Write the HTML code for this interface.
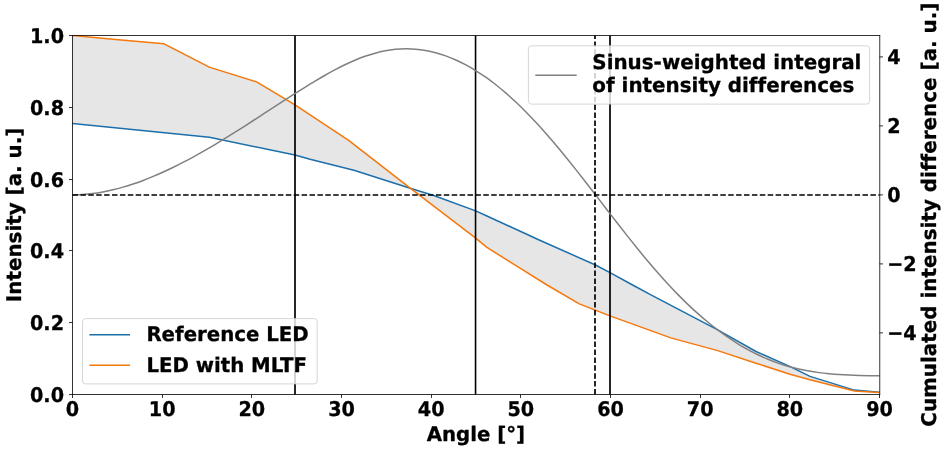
<!DOCTYPE html>
<html lang="en"><head><meta charset="utf-8"><title>Intensity vs angle</title>
<style>html,body{margin:0;padding:0;background:#fff}svg{display:block}text{text-rendering:geometricPrecision;stroke:#000;stroke-width:.3px;stroke-linejoin:round;font-variant-ligatures:none;font-feature-settings:"liga" 0,"clig" 0}</style></head>
<body>
<svg width="944" height="450" viewBox="0 0 944 450" font-family="'DejaVu Sans', 'Liberation Sans', sans-serif" font-weight="bold" font-size="20" fill="#000">
<rect width="944" height="450" fill="#fff"/>
<path d="M72.50 35.50 L118.40 39.70 L164.10 43.80 L209.30 67.10 L256.60 81.90 L295.00 104.90 L348.30 140.10 L410.20 188.20 L475.70 238.20 L486.90 247.40 L520.00 268.10 L547.00 285.00 L579.30 303.90 L610.00 315.90 L670.80 337.90 L717.70 350.60 L756.00 363.20 L790.00 374.20 L810.00 379.80 L854.40 391.00 L879.50 392.60 L879.50 392.30 L854.30 390.10 L810.00 376.40 L790.20 366.60 L756.00 351.50 L717.70 329.80 L650.00 294.30 L632.60 285.00 L610.00 272.70 L595.50 265.00 L539.20 240.00 L486.90 216.00 L475.70 210.90 L433.00 195.20 L410.20 188.20 L353.90 170.30 L310.00 159.30 L295.00 155.00 L209.30 137.30 L72.50 123.60 Z" fill="#808080" fill-opacity="0.2"/>
<g stroke="#000" stroke-width="0.8">
<line x1="72.5" y1="394.5" x2="72.5" y2="398.0"/>
<line x1="162.5" y1="394.5" x2="162.5" y2="398.0"/>
<line x1="251.5" y1="394.5" x2="251.5" y2="398.0"/>
<line x1="341.5" y1="394.5" x2="341.5" y2="398.0"/>
<line x1="431.5" y1="394.5" x2="431.5" y2="398.0"/>
<line x1="520.5" y1="394.5" x2="520.5" y2="398.0"/>
<line x1="610.5" y1="394.5" x2="610.5" y2="398.0"/>
<line x1="700.5" y1="394.5" x2="700.5" y2="398.0"/>
<line x1="789.5" y1="394.5" x2="789.5" y2="398.0"/>
<line x1="879.5" y1="394.5" x2="879.5" y2="398.0"/>
<line x1="69.0" y1="394.5" x2="72.5" y2="394.5"/>
<line x1="69.0" y1="322.5" x2="72.5" y2="322.5"/>
<line x1="69.0" y1="250.5" x2="72.5" y2="250.5"/>
<line x1="69.0" y1="179.5" x2="72.5" y2="179.5"/>
<line x1="69.0" y1="107.5" x2="72.5" y2="107.5"/>
<line x1="69.0" y1="35.5" x2="72.5" y2="35.5"/>
<line x1="879.5" y1="56.900000000000006" x2="883.0" y2="56.900000000000006"/>
<line x1="879.5" y1="125.9" x2="883.0" y2="125.9"/>
<line x1="879.5" y1="194.9" x2="883.0" y2="194.9"/>
<line x1="879.5" y1="263.9" x2="883.0" y2="263.9"/>
<line x1="879.5" y1="332.9" x2="883.0" y2="332.9"/>
</g>
<text transform="translate(72.50 416.00) scale(0.96 1.01)" text-anchor="middle">0</text>
<text transform="translate(162.17 416.00) scale(0.96 1.01)" text-anchor="middle">10</text>
<text transform="translate(251.83 416.00) scale(0.96 1.01)" text-anchor="middle">20</text>
<text transform="translate(341.50 416.00) scale(0.96 1.01)" text-anchor="middle">30</text>
<text transform="translate(431.17 416.00) scale(0.96 1.01)" text-anchor="middle">40</text>
<text transform="translate(520.83 416.00) scale(0.96 1.01)" text-anchor="middle">50</text>
<text transform="translate(610.50 416.00) scale(0.96 1.01)" text-anchor="middle">60</text>
<text transform="translate(700.17 416.00) scale(0.96 1.01)" text-anchor="middle">70</text>
<text transform="translate(789.83 416.00) scale(0.96 1.01)" text-anchor="middle">80</text>
<text transform="translate(879.50 416.00) scale(0.96 1.01)" text-anchor="middle">90</text>
<text transform="translate(64.00 402.00) scale(0.96 1.01)" text-anchor="end">0.0</text>
<text transform="translate(64.00 330.00) scale(0.96 1.01)" text-anchor="end">0.2</text>
<text transform="translate(64.00 258.00) scale(0.96 1.01)" text-anchor="end">0.4</text>
<text transform="translate(64.00 187.00) scale(0.96 1.01)" text-anchor="end">0.6</text>
<text transform="translate(64.00 115.00) scale(0.96 1.01)" text-anchor="end">0.8</text>
<text transform="translate(64.00 43.00) scale(0.96 1.01)" text-anchor="end">1.0</text>
<text transform="translate(887.20 64.00) scale(0.96 1.01)">4</text>
<text transform="translate(887.20 133.00) scale(0.96 1.01)">2</text>
<text transform="translate(887.20 202.00) scale(0.96 1.01)">0</text>
<text transform="translate(887.20 271.00) scale(0.96 1.01)">−2</text>
<text transform="translate(887.20 340.00) scale(0.96 1.01)">−4</text>
<text transform="translate(475.90 441.00) scale(0.988 1.01)" text-anchor="middle">Angle [°]</text>
<text transform="translate(20.70 214.90) rotate(-90) scale(0.994 1.01)" text-anchor="middle">Intensity [a. u.]</text>
<text transform="translate(935.80 214.65) rotate(-90) scale(0.996 1.01)" text-anchor="middle">Cumulated intensity difference [a. u.]</text>
<g fill="none" stroke-width="1.5" stroke-linejoin="round">
<path d="M72.50 123.60 L209.30 137.30 L295.00 155.00 L310.00 159.30 L353.90 170.30 L410.20 188.20 L433.00 195.20 L475.70 210.90 L486.90 216.00 L539.20 240.00 L595.50 265.00 L610.00 272.70 L632.60 285.00 L650.00 294.30 L717.70 329.80 L756.00 351.50 L790.20 366.60 L810.00 376.40 L854.30 390.10 L879.50 392.30" stroke="#1b6fab"/>
<path d="M72.50 35.50 L118.40 39.70 L164.10 43.80 L209.30 67.10 L256.60 81.90 L295.00 104.90 L348.30 140.10 L410.20 188.20 L475.70 238.20 L486.90 247.40 L520.00 268.10 L547.00 285.00 L579.30 303.90 L610.00 315.90 L670.80 337.90 L717.70 350.60 L756.00 363.20 L790.00 374.20 L810.00 379.80 L854.40 391.00 L879.50 392.60" stroke="#f5780c"/>
<line x1="295" y1="394.5" x2="295" y2="35.5" stroke="#000" stroke-width="1.7"/>
<line x1="475.55" y1="394.5" x2="475.55" y2="35.5" stroke="#000" stroke-width="1.6"/>
<line x1="610.0" y1="394.5" x2="610.0" y2="35.5" stroke="#000" stroke-width="1.7"/>
<path d="M72.50 194.90 C74.18 194.84 79.23 194.73 82.59 194.50 C85.95 194.26 89.31 193.92 92.67 193.49 C96.04 193.06 99.40 192.52 102.76 191.91 C106.12 191.29 109.49 190.57 112.85 189.78 C116.21 188.98 119.58 188.09 122.94 187.13 C126.30 186.17 129.66 185.12 133.03 184.01 C136.39 182.89 139.75 181.69 143.11 180.43 C146.48 179.16 149.84 177.82 153.20 176.42 C156.56 175.03 159.93 173.56 163.29 172.03 C166.65 170.51 170.01 168.92 173.38 167.28 C176.74 165.64 180.10 163.94 183.46 162.20 C186.83 160.45 190.19 158.65 193.55 156.82 C196.91 154.98 200.28 153.09 203.64 151.17 C207.00 149.24 210.36 147.28 213.72 145.28 C217.09 143.28 220.45 141.25 223.81 139.19 C227.18 137.13 230.54 135.03 233.90 132.92 C237.26 130.81 240.62 128.66 243.99 126.51 C247.35 124.36 250.71 122.18 254.08 120.00 C257.44 117.83 260.80 115.63 264.16 113.44 C267.53 111.26 270.89 109.06 274.25 106.87 C277.61 104.69 280.97 102.51 284.34 100.34 C287.70 98.18 291.06 96.02 294.43 93.89 C297.79 91.76 301.15 89.65 304.51 87.57 C307.88 85.49 311.24 83.42 314.60 81.41 C317.96 79.40 321.32 77.41 324.69 75.49 C328.05 73.58 331.41 71.70 334.78 69.91 C338.14 68.13 341.50 66.40 344.86 64.79 C348.23 63.17 351.59 61.63 354.95 60.22 C358.31 58.81 361.68 57.50 365.04 56.33 C368.40 55.16 371.76 54.11 375.12 53.19 C378.49 52.28 381.85 51.49 385.21 50.86 C388.58 50.22 391.94 49.72 395.30 49.37 C398.66 49.02 402.02 48.82 405.39 48.78 C408.75 48.74 412.11 48.86 415.48 49.14 C418.84 49.41 422.20 49.85 425.56 50.45 C428.93 51.04 432.29 51.80 435.65 52.70 C439.01 53.61 442.38 54.67 445.74 55.88 C449.10 57.09 452.46 58.45 455.82 59.96 C459.19 61.47 462.55 63.13 465.91 64.93 C469.28 66.74 472.64 68.69 476.00 70.78 C479.36 72.87 482.73 75.11 486.09 77.48 C489.45 79.85 492.81 82.36 496.18 85.01 C499.54 87.66 502.90 90.45 506.26 93.37 C509.62 96.29 512.99 99.35 516.35 102.52 C519.71 105.70 523.08 109.02 526.44 112.43 C529.80 115.85 533.16 119.39 536.53 123.03 C539.89 126.66 543.25 130.41 546.61 134.24 C549.97 138.06 553.34 142.00 556.70 146.00 C560.06 150.00 563.43 154.09 566.79 158.23 C570.15 162.38 573.51 166.60 576.88 170.86 C580.24 175.11 583.60 179.43 586.96 183.76 C590.33 188.08 593.69 192.46 597.05 196.82 C600.41 201.19 603.78 205.58 607.14 209.94 C610.50 214.30 613.86 218.68 617.23 223.01 C620.59 227.33 623.95 231.65 627.31 235.91 C630.67 240.16 634.04 244.39 637.40 248.54 C640.76 252.69 644.12 256.80 647.49 260.81 C650.85 264.82 654.21 268.76 657.58 272.59 C660.94 276.42 664.30 280.17 667.66 283.80 C671.02 287.43 674.39 290.96 677.75 294.39 C681.11 297.81 684.47 301.13 687.84 304.34 C691.20 307.54 694.56 310.65 697.93 313.63 C701.29 316.62 704.65 319.50 708.01 322.27 C711.38 325.03 714.74 327.68 718.10 330.21 C721.46 332.75 724.83 335.16 728.19 337.46 C731.55 339.77 734.91 341.95 738.27 344.02 C741.64 346.09 745.00 348.04 748.36 349.88 C751.73 351.72 755.09 353.44 758.45 355.05 C761.81 356.66 765.18 358.15 768.54 359.53 C771.90 360.91 775.26 362.18 778.62 363.34 C781.99 364.49 785.35 365.53 788.71 366.48 C792.08 367.44 795.44 368.28 798.80 369.04 C802.16 369.80 805.53 370.47 808.89 371.06 C812.25 371.66 815.61 372.17 818.98 372.62 C822.34 373.07 825.70 373.44 829.06 373.77 C832.42 374.09 835.79 374.35 839.15 374.58 C842.51 374.81 845.88 374.98 849.24 375.12 C852.60 375.27 855.96 375.37 859.33 375.46 C862.69 375.55 866.05 375.61 869.41 375.66 C872.77 375.72 877.82 375.77 879.50 375.79" stroke="#808080"/>
<line x1="72.5" y1="195" x2="879.5" y2="195" stroke="#000" stroke-width="1.7" stroke-dasharray="5.5 2.4"/>
<line x1="595" y1="394.5" x2="595" y2="35.5" stroke="#000" stroke-width="1.7" stroke-dasharray="5.5 2.4"/>
</g>
<path d="M72.5 394.9V35.1M879.75 394.9V35.1M72.1 35.5H880.15M72.1 394.5H880.15" fill="none" stroke="#000" stroke-width="0.8"/>
<rect x="82.5" y="318.6" width="234.7" height="65.3" rx="3" fill="#fff" fill-opacity="0.8" stroke="#ccc" stroke-opacity="0.8" stroke-width="1"/>
<line x1="89.4" y1="334.7" x2="130" y2="334.7" stroke="#1b6fab" stroke-width="1.5"/>
<line x1="89.4" y1="365.3" x2="130" y2="365.3" stroke="#f5780c" stroke-width="1.5"/>
<text transform="translate(146.40 341.00) scale(0.9884 1.01)">Reference LED</text>
<text transform="translate(146.40 372.00) scale(0.987 1.01)">LED with MLTF</text>
<rect x="528.4" y="45.8" width="341.2" height="58.3" rx="3" fill="#fff" fill-opacity="0.8" stroke="#ccc" stroke-opacity="0.8" stroke-width="1"/>
<line x1="535.3" y1="75.2" x2="576.7" y2="75.2" stroke="#808080" stroke-width="1.5"/>
<text transform="translate(592.30 69.00) scale(0.9948 1.01)">Sinus-weighted integral</text>
<text transform="translate(592.30 92.00) scale(0.995 1.01)">of intensity differences</text>
</svg>
</body></html>
